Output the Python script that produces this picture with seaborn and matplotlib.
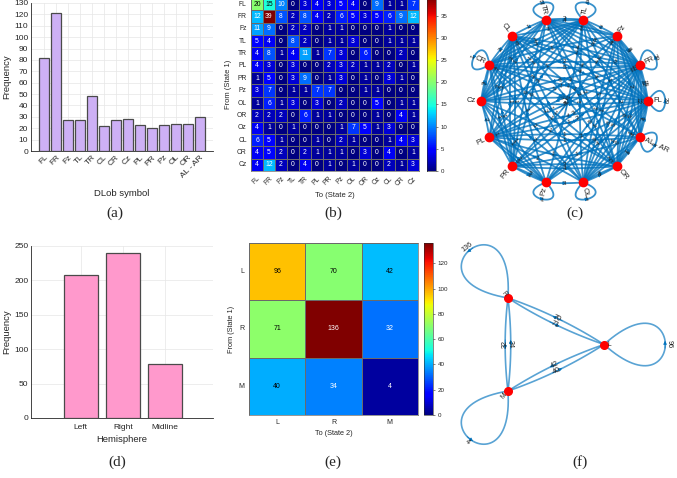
import numpy as np
import pandas as pd
import matplotlib
matplotlib.use('Agg')
import matplotlib.pyplot as plt
import seaborn as sns

# Dados de cada painel
dlob_symbols = ['FL', 'FR', 'Fz', 'TL', 'TR', 'CL', 'CR', 'Cz', 'PL', 'PR', 'Pz', 'OL', 'OR', 'AL - AR']
dlob_freq = [82, 121, 27, 27, 48, 22, 27, 28, 23, 20, 23, 24, 24, 30]

hemispheres = ['Left', 'Right', 'Midline']
hemi_freq = [208, 240, 78]

trans_labels = ['FL', 'FR', 'Fz', 'TL', 'TR', 'PL', 'PR', 'Pz', 'OL', 'OR', 'Oz', 'CL', 'CR', 'Cz']
trans_counts = [
    [20, 15, 10, 0, 3, 4, 3, 5, 4, 0, 9, 1, 1, 7],
    [12, 39, 8, 2, 8, 4, 2, 6, 5, 3, 5, 6, 9, 12],
    [11, 9, 0, 2, 2, 0, 1, 1, 0, 0, 0, 1, 0, 0],
    [5, 4, 0, 8, 2, 0, 1, 1, 3, 0, 0, 1, 1, 1],
    [4, 8, 1, 4, 11, 1, 7, 3, 0, 6, 0, 0, 2, 0],
    [4, 3, 0, 3, 0, 0, 2, 3, 2, 1, 1, 2, 0, 1],
    [1, 5, 0, 3, 9, 0, 1, 3, 0, 1, 0, 3, 1, 0],
    [3, 7, 0, 1, 1, 7, 7, 0, 0, 1, 1, 0, 0, 0],
    [1, 6, 1, 3, 0, 3, 0, 2, 0, 0, 5, 0, 1, 1],
    [2, 2, 2, 0, 6, 1, 1, 0, 0, 0, 1, 0, 4, 1],
    [4, 1, 0, 1, 0, 0, 0, 1, 7, 5, 1, 3, 0, 0],
    [6, 5, 1, 0, 0, 1, 0, 2, 1, 0, 0, 1, 4, 3],
    [4, 5, 2, 0, 2, 1, 1, 1, 0, 3, 0, 4, 0, 1],
    [4, 12, 2, 0, 4, 0, 1, 0, 1, 0, 0, 2, 1, 3],
]

# nomes dos nós do grafo (c): mesma matriz, rótulos na ordem do painel (a)
graph_nodes = dlob_symbols

hemi_states = ['L', 'R', 'M']
hemi_trans = [
    [96, 70, 42],
    [71, 136, 32],
    [40, 34, 4],
]

sns.set_style('white')
plt.rcParams['font.family'] = ['Liberation Sans', 'DejaVu Sans']
axis_col = '#262626'
edge_rgb = '#0072BD'

W, H = 677, 478
fig = plt.figure(figsize=(W / 100, H / 100), dpi=100)


def px_axes(x0, y0, w, h):
    return fig.add_axes([x0 / W, 1 - (y0 + h) / H, w / W, h / H])


def matlab_look(ax):
    ax.set_axisbelow(True)
    ax.grid(True, color='#e6e6e6', lw=0.5)
    sns.despine(ax=ax)
    for s in ['left', 'bottom']:
        ax.spines[s].set_color(axis_col)
        ax.spines[s].set_linewidth(0.6)
    ax.tick_params(direction='in', length=2, width=0.5, colors=axis_col, labelsize=6, pad=2)


# ---------- (a) ----------
ax_a = px_axes(31, 3, 182, 148)
df_a = pd.DataFrame({'symbol': dlob_symbols, 'freq': dlob_freq})
sns.barplot(data=df_a, x='symbol', y='freq', color='#cdb0f5', saturation=1,
            edgecolor='#4a4a4a', linewidth=0.9, width=0.8, ax=ax_a)
matlab_look(ax_a)
ax_a.set_xlim(-1.1, 14.1)
ax_a.set_ylim(0, 130)
ax_a.set_yticks(range(0, 131, 10))
ax_a.set_xticks(range(len(dlob_symbols)))
ax_a.set_xticklabels(dlob_symbols, rotation=45, ha='right', rotation_mode='anchor')
ax_a.set_xlabel('DLob symbol', fontsize=6.8, color=axis_col, labelpad=7)
ax_a.set_ylabel('Frequency', fontsize=6.8, color=axis_col, labelpad=2)

# ---------- (d) ----------
ax_d = px_axes(31, 246, 182, 172)
df_d = pd.DataFrame({'hemi': hemispheres, 'freq': hemi_freq})
sns.barplot(data=df_d, x='hemi', y='freq', color='#ff99cc', saturation=1,
            edgecolor='#4a4a4a', linewidth=0.9, width=0.8, ax=ax_d)
matlab_look(ax_d)
ax_d.tick_params(axis='x', pad=4)
ax_d.set_xlim(-1.18, 3.13)
ax_d.set_ylim(0, 250)
ax_d.set_yticks(range(0, 251, 50))
ax_d.set_xlabel('Hemisphere', fontsize=6.8, color=axis_col, labelpad=3)
ax_d.set_ylabel('Frequency', fontsize=6.8, color=axis_col, labelpad=2)


# ---------- heatmaps (b) e (e) ----------
def heat(ax, cax, data, labels, vmax, ticks, fs, cfs, dark_below):
    df = pd.DataFrame(data, index=labels, columns=labels)
    sns.heatmap(df, cmap='jet', vmin=0, vmax=vmax, annot=True, fmt='d',
                annot_kws={'size': fs}, linewidths=0.4, linecolor='#6a6a6a',
                xticklabels=labels, yticklabels=labels,
                cbar_ax=cax, cbar_kws={'ticks': ticks}, ax=ax)
    # texto preto nas células claras, branco nas escuras
    for txt in ax.texts:
        v = int(txt.get_text())
        light = dark_below * vmax <= v <= 0.8 * vmax
        txt.set_color('black' if light else 'white')
    ax.tick_params(length=0, labelsize=fs, colors=axis_col, pad=3)
    for s in ax.spines.values():
        s.set_visible(True)
        s.set_color('#6a6a6a')
        s.set_linewidth(0.5)
    cax.tick_params(labelsize=cfs, length=1.5, width=0.4, colors=axis_col, pad=2)
    for s in cax.spines.values():
        s.set_linewidth(0.4)


ax_b = px_axes(251, -2, 168, 173)
cax_b = px_axes(427, -2, 9, 173)
heat(ax_b, cax_b, trans_counts, trans_labels, 39, list(range(0, 36, 5)), 4.9, 4.4, 0.35)
ax_b.set_xticklabels(trans_labels, rotation=45, ha='right', rotation_mode='anchor')
ax_b.set_yticklabels(trans_labels, rotation=0)
ax_b.set_xlabel('To (State 2)', fontsize=5.5, color=axis_col, labelpad=3)
ax_b.set_ylabel('From (State 1)', fontsize=5.5, color=axis_col, labelpad=3)

ax_e = px_axes(249, 243, 169, 172)
cax_e = px_axes(424, 243, 9, 172)
heat(ax_e, cax_e, hemi_trans, hemi_states, 136, list(range(0, 121, 20)), 5, 4.5, 0.27)
ax_e.set_yticklabels(hemi_states, rotation=0)
ax_e.set_xlabel('To (State 2)', fontsize=5.3, color=axis_col, labelpad=3)
ax_e.set_ylabel('From (State 1)', fontsize=5.3, color=axis_col, labelpad=3)


# ---------- grafos (c) e (f) ----------
def rot(v, a):
    ca, sa = np.cos(a), np.sin(a)
    return np.array([ca * v[0] - sa * v[1], sa * v[0] + ca * v[1]])


def screen_angle(v):
    ang = np.degrees(np.arctan2(-v[1], v[0]))
    return (ang + 90) % 180 - 90


def draw_edge(ax, p0, p1, bend, label, fs, lw, alpha):
    d = p1 - p0
    L = np.hypot(*d)
    n = np.array([-d[1], d[0]]) / L
    c = (p0 + p1) / 2 + bend * L * n
    t = np.linspace(0, 1, 41)[:, None]
    pts = (1 - t) ** 2 * p0 + 2 * (1 - t) * t * c + t ** 2 * p1
    ax.plot(pts[:, 0], pts[:, 1], color=edge_rgb, alpha=alpha, lw=lw, solid_capstyle='round')
    ax.annotate('', xy=pts[22], xytext=pts[18],
                arrowprops=dict(arrowstyle='-|>', color=edge_rgb, lw=0.5,
                                mutation_scale=5, shrinkA=0, shrinkB=0))
    ax.text(pts[20, 0], pts[20, 1], str(label), fontsize=fs, ha='center', va='center',
            rotation=screen_angle(pts[22] - pts[18]), rotation_mode='anchor')


def draw_loop(ax, p, u, D, phi, label, fs, gap, lw, alpha):
    c1 = p + D * rot(u, phi)
    c2 = p + D * rot(u, -phi)
    t = np.linspace(0, 1, 61)[:, None]
    pts = (1 - t) ** 3 * p + 3 * (1 - t) ** 2 * t * c1 + 3 * (1 - t) * t ** 2 * c2 + t ** 3 * p
    ax.plot(pts[:, 0], pts[:, 1], color=edge_rgb, alpha=alpha, lw=lw)
    ax.annotate('', xy=pts[32], xytext=pts[28],
                arrowprops=dict(arrowstyle='-|>', color=edge_rgb, lw=0.5,
                                mutation_scale=5, shrinkA=0, shrinkB=0))
    tip = pts[30] + gap * u
    ax.text(tip[0], tip[1], str(label), fontsize=fs, ha='center', va='center',
            rotation=screen_angle(pts[32] - pts[28]), rotation_mode='anchor')


def draw_graph(ax, names, mat, pos, center, node_ms, efs, nfs, bend, loopD, loopphi,
               lgap, noff, lw, alpha):
    mat = np.array(mat)
    k = len(names)
    for i in range(k):
        for j in range(k):
            if i != j and mat[i, j] > 0:
                draw_edge(ax, pos[i], pos[j], bend, mat[i, j], efs, lw, alpha)
    for i in range(k):
        u = (pos[i] - center) / np.hypot(*(pos[i] - center))
        if mat[i, i] > 0:
            draw_loop(ax, pos[i], u, loopD, loopphi, mat[i, i], efs, lgap, lw, alpha)
        ax.plot(pos[i][0], pos[i][1], 'o', color='red', ms=node_ms, zorder=5)
        ang = np.degrees(np.arctan2(-u[1], u[0]))
        if -90 < ang <= 90:
            rotn, ha = ang, 'left'
        else:
            rotn, ha = ang - 180, 'right'
        q = pos[i] + noff * u
        ax.text(q[0], q[1], names[i], fontsize=nfs, ha=ha, va='center',
                rotation=rotn, rotation_mode='anchor', zorder=6)


# (c) layout circular com 14 nós
ax_c = px_axes(440, 0, 237, 222)
ax_c.set_xlim(440, 677)
ax_c.set_ylim(222, 0)
ax_c.axis('off')
cc = np.array([564.5, 101.0])
rc = 83.5
theta_c = np.radians(np.arange(len(graph_nodes)) * 360 / len(graph_nodes))
pos_c = [cc + rc * np.array([np.cos(a), -np.sin(a)]) for a in theta_c]
draw_graph(ax_c, graph_nodes, trans_counts, pos_c, cc, 6, 4.6, 5.5, 0.04, 42,
           np.radians(57), 0.5, 5, 1.3, 0.78)

# (f) layout com 3 nós
ax_f = px_axes(440, 232, 237, 225)
ax_f.set_xlim(440, 677)
ax_f.set_ylim(457, 232)
ax_f.axis('off')
cf = np.array([544.7, 344.5])
rf = 59.3
theta_f = np.radians([128.3, 0, -128.3])
pos_f = [cf + rf * np.array([np.cos(a), -np.sin(a)]) for a in theta_f]
order_f = [1, 0, 2]  # R, L, M
names_f = [hemi_states[i] for i in order_f]
mat_f = np.array(hemi_trans)[np.ix_(order_f, order_f)]
draw_graph(ax_f, names_f, mat_f, pos_f, cf, 5.5, 5.2, 4.8, 0.06, 110,
           np.radians(42), 4, 3, 1.2, 0.65)

# rótulos dos painéis
for lab, x, y in [('(a)', 115, 213), ('(b)', 333, 213), ('(c)', 575, 213),
                  ('(d)', 117, 462), ('(e)', 333, 462), ('(f)', 580, 462)]:
    fig.text(x / W, 1 - y / H, lab, fontsize=11, family='Liberation Serif',
             ha='center', va='center')

fig.savefig('out.png', dpi=100)
